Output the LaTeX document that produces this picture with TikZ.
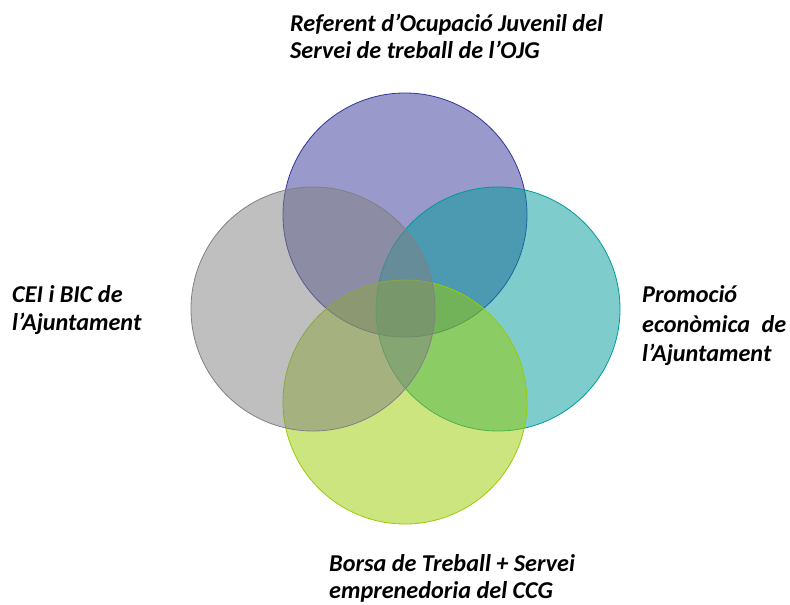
\documentclass[tikz,border=0pt]{standalone}
\usepackage{fontspec}
\setmainfont{Carlito}
\tikzset{
  venn/.style={line width=0.8pt, fill opacity=0.5},
  lbl/.style={anchor=base west, inner sep=0pt, font=\fontsize{24.2}{28}\selectfont\bfseries\itshape}
}
\begin{document}
\begin{tikzpicture}[x=1pt,y=-1pt]
\useasboundingbox (0,0) rectangle (790,605);
\draw[venn, draw={rgb,255:red,51;green,51;blue,153}, fill={rgb,255:red,51;green,51;blue,153}] (405,215) circle (122) node (top) {};
\draw[venn, draw={rgb,255:red,0;green,153;blue,153}, fill={rgb,255:red,0;green,153;blue,153}] (498,309) circle (122) node (right) {};
\draw[venn, draw={rgb,255:red,153;green,204;blue,0}, fill={rgb,255:red,153;green,204;blue,0}] (405,402) circle (122) node (bottom) {};
\draw[venn, draw={rgb,255:red,128;green,128;blue,128}, fill={rgb,255:red,128;green,128;blue,128}] (313,309) circle (122) node (left) {};
\node[lbl] (t1) at (290,31) {Referent d’Ocupació Juvenil del};
\node[lbl] (t2) at (290,58) {Servei de treball de l’OJG};
\node[lbl] (l1) at (12,302) {CEI i BIC de};
\node[lbl] (l2) at (12,330) {l’Ajuntament};
\node[lbl] (r1) at (642,302) {Promoció};
\node[lbl] (r2) at (642,332) {\hbox to 144pt{econòmica\hfill de}};
\node[lbl] (r3) at (642,361) {l’Ajuntament};
\node[lbl] (b1) at (329,571) {Borsa de Treball + Servei};
\node[lbl] (b2) at (329,598) {emprenedoria del CCG};
\end{tikzpicture}
\end{document}
